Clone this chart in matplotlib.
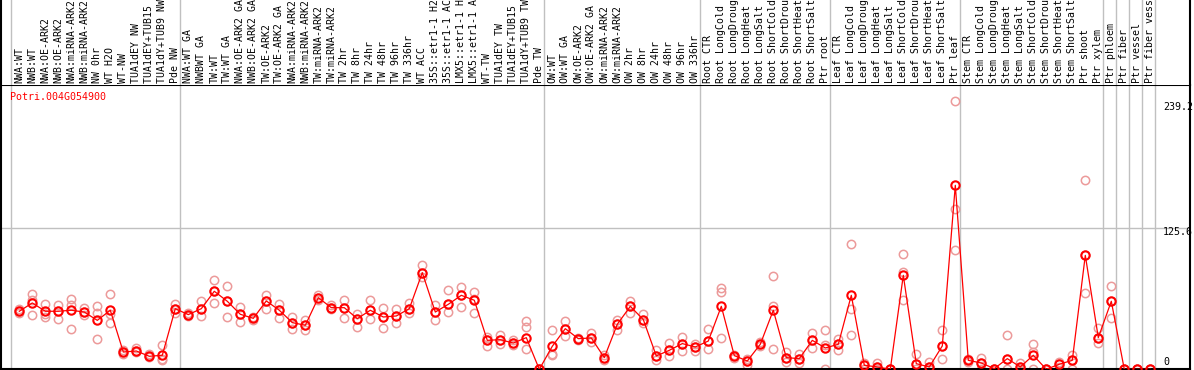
import matplotlib
matplotlib.use('Agg')
import matplotlib.pyplot as plt
import numpy as np

# sample names, in plot order
labels = [
    'NWA:WT', 'NWB:WT', 'NWA:OE-ARK2', 'NWB:OE-ARK2', 'NWA:miRNA-ARK2', 'NWB:miRNA-ARK2',
    'NW 0hr', 'WT H2O', 'WT-NW', 'TUA1dEY NW', 'TUA1dEY+TUB15 NW', 'TUA1dY+TUB9 NW', 'Pde NW',
    'NWA:WT GA', 'NWBWT GA', 'TW:WT', 'TW:WT GA', 'NWA:OE-ARK2 GA', 'NWB:OE-ARK2 GA',
    'TW:OE-ARK2', 'TW:OE-ARK2 GA', 'NWA:miRNA-ARK2', 'NWB:miRNA-ARK2', 'TW:miRNA-ARK2',
    'TW:miRNA-ARK2', 'TW 2hr', 'TW 8hr', 'TW 24hr', 'TW 48hr', 'TW 96hr', 'TW 336hr', 'WT ACC',
    '35S::etr1-1 H2O', '35S::etr1-1 ACC', 'LMX5::etr1-1 H2O', 'LMX5::etr1-1 ACC', 'WT-TW',
    'TUA1dEY TW', 'TUA1dEY+TUB15 TW', 'TUA1dY+TUB9 TW', 'Pde TW',
    'OW:WT', 'OW:WT GA', 'OW:OE-ARK2', 'OW:OE-ARK2 GA', 'OW:miRNA-ARK2', 'OW:miRNA-ARK2',
    'OW 2hr', 'OW 8hr', 'OW 24hr', 'OW 48hr', 'OW 96hr', 'OW 336hr',
    'Root CTR', 'Root LongCold', 'Root LongDrought', 'Root LongHeat', 'Root LongSalt',
    'Root ShortCold', 'Root ShortDrought', 'Root ShortHeat', 'Root ShortSalt', 'Ptr root',
    'Leaf CTR', 'Leaf LongCold', 'Leaf LongDrought', 'Leaf LongHeat', 'Leaf LongSalt',
    'Leaf ShortCold', 'Leaf ShortDrought', 'Leaf ShortHeat', 'Leaf ShortSalt', 'Ptr leaf',
    'Stem CTR', 'Stem LongCold', 'Stem LongDrought', 'Stem LongHeat', 'Stem LongSalt',
    'Stem ShortCold', 'Stem ShortDrought', 'Stem ShortHeat', 'Stem ShortSalt', 'Ptr shoot',
    'Ptr xylem', 'Ptr phloem', 'Ptr fiber', 'Ptr vessel', 'Ptr fiber vessel',
]
group_sizes = [13, 28, 12, 10, 10, 11, 1, 1, 1, 1]

means = [
    51.7, 59.1, 51.7, 51.7, 52.6, 51.0, 43.6, 52.6, 15.4, 16.3, 11.6, 12.5, 54.0,
    48.7, 54.0, 69.5, 60.6, 49.0, 45.4, 60.9, 52.6, 41.6, 39.2, 63.8, 54.9, 54.9,
    45.1, 52.6, 46.6, 47.5, 54.0, 86.1, 51.0, 57.9, 65.9, 61.5, 25.8, 26.4, 23.4, 28.2, 0.0,
    20.5, 36.2, 27.3, 27.9, 10.4, 40.1, 56.1, 44.3, 11.9, 16.9, 22.9, 19.9,
    25.2, 56.1, 12.2, 7.4, 22.3, 52.6, 10.4, 9.5, 25.8, 19.0,
    22.3, 65.9, 3.6, 2.1, 0.0, 83.7, 5.0, 2.1, 20.8, 163.9,
    8.0, 5.6, 0.6, 9.5, 2.1, 12.5, 0.0, 4.5, 8.0, 101.5, 28.2,
    60.6, 0.0, 0.0, 0.0,
]

# replicate values per sample
reps = [
    [54.0, 50.0, 51.5], [66.8, 48.1, 61.5], [58.5, 46.6, 49.0], [57.0, 45.1, 52.0],
    [63.0, 57.0, 36.2], [54.9, 48.1, 51.0], [56.1, 50.2, 27.3], [67.4, 41.6, 49.0],
    [17.5, 14.0, 15.0], [19.3, 15.4, 16.0], [13.4, 11.0, 11.8], [21.4, 9.5, 8.6],
    [57.9, 50.2, 54.0], [50.2, 47.5, 48.5], [60.6, 47.5, 54.0], [79.9, 59.4, 69.5],
    [73.9, 46.6, 60.6], [55.5, 42.1, 49.0], [46.6, 43.6, 45.4], [65.9, 54.0, 60.9],
    [58.5, 45.4, 52.6], [46.6, 36.2, 41.6], [44.3, 34.7, 39.2], [65.9, 61.5, 63.8],
    [57.0, 54.0, 54.9], [61.5, 45.7, 54.9], [49.6, 37.7, 45.1], [61.5, 45.1, 52.6],
    [54.9, 37.1, 46.6], [53.4, 41.6, 47.5], [59.1, 50.2, 54.0], [92.6, 82.2, 86.1],
    [57.0, 44.3, 51.0], [70.4, 51.0, 57.9], [73.3, 55.5, 65.9], [68.9, 50.2, 63.0],
    [28.8, 20.5, 25.8], [30.3, 22.3, 26.4], [25.8, 22.0, 23.4], [43.0, 37.7, 18.4],
    [0.0, 0.0, 0.0], [35.3, 12.5, 13.5], [43.0, 29.7, 36.2], [25.8, 27.3, 28.0],
    [32.3, 24.3, 27.9], [12.5, 8.6, 10.4], [44.3, 35.3, 40.1], [60.9, 50.2, 56.1],
    [49.0, 41.6, 44.3], [16.9, 8.6, 11.9], [23.8, 11.6, 16.9], [28.8, 16.0, 22.9],
    [22.3, 16.3, 19.9], [36.2, 18.4, 25.2], [72.7, 68.9, 28.2], [12.5, 10.4, 12.2],
    [9.5, 3.6, 7.4], [24.3, 20.5, 22.3], [82.8, 56.1, 18.4], [15.4, 6.5, 10.4],
    [13.4, 5.6, 9.5], [32.3, 19.3, 25.8], [34.7, 21.4, 0.0], [27.3, 16.9, 22.3],
    [112.0, 54.0, 30.9], [5.6, 0.6, 3.6], [5.6, 0.0, 2.1], [0.0, 0.0, 0.0],
    [103.0, 86.7, 62.1], [14.0, 0.6, 5.0], [6.5, 0.0, 2.1], [34.7, 9.5, 20.8],
    [239.2, 143.1, 106.6], [9.5, 6.5, 8.0], [10.4, 0.0, 5.6], [0.6, 0.6, 0.6],
    [30.9, 0.0, 9.5], [5.6, 0.0, 2.1], [22.9, 15.4, 0.0], [0.0, 0.0, 0.0],
    [6.5, 4.5, 2.0], [12.5, 0.0, 8.0], [169.0, 68.0, 101.5], [37.1, 23.4, 28.2],
    [73.9, 46.0, 60.6], [0.0, 0.0, 0.0], [0.0, 0.0, 0.0], [0.0, 0.0, 0.0],
]

gene = 'Potri.004G054900'
ymax_val = 239.2
ymid_val = 125.6

W, H = 1194, 370
fig = plt.figure(figsize=(W / 100, H / 100), dpi=100)
mono = 'DejaVu Sans Mono'
fs = 7.2
fs_head = 7.1

# pixel -> data mapping for x (column i centre at 19.3 + 13 i px)
def px2x(p):
    return (p - 19.3) / 13.0

xl = (px2x(1), px2x(1190))
ytop = (369.3 - 85) / 1.1226

ax = fig.add_axes([1 / W, (H - 369.3) / H, 1189 / W, (369.3 - 85) / H])
axh = fig.add_axes([1 / W, (H - 85) / H, 1189 / W, 85 / H])

x = np.arange(len(labels))

# group separators
starts = np.cumsum([0] + group_sizes)
for s in starts:
    xs = s - 0.64
    ax.axvline(xs, color='#c0c0c0', lw=1.0, zorder=0)
    axh.axvline(xs, color='#c0c0c0', lw=1.0, zorder=0)
ax.axhline(ymid_val, color='#c0c0c0', lw=1.0, zorder=0)

# replicates
for i, r in enumerate(reps):
    ax.plot([i] * len(r), r, 'o', ms=6, mfc='none', mec='#ec9a9a', mew=1.1, zorder=2)

# means
ax.plot(x, means, '-', color='red', lw=0.9, zorder=3)
ax.plot(x, means, 'o', ms=6, mfc='none', mec='red', mew=1.5, zorder=4)

ax.set_xlim(*xl)
ax.set_ylim(0, ytop)
ax.set_xticks([])
ax.set_yticks([])
for sp in ax.spines.values():
    sp.set_color('black')
    sp.set_linewidth(1.5)

ax.text(px2x(10), (369.3 - 97) / 1.1226, gene, color='red', family=mono, fontsize=fs,
        ha='left', va='center')
ax.text(px2x(1163), (369.3 - 107) / 1.1226, '239.2', color='black', family=mono, fontsize=fs,
        ha='left', va='center')
ax.text(px2x(1163), (369.3 - 232) / 1.1226, '125.6', color='black', family=mono, fontsize=fs,
        ha='left', va='center')
ax.text(px2x(1163), (369.3 - 362) / 1.1226, '0', color='black', family=mono, fontsize=fs,
        ha='left', va='center')

# header with rotated sample names
axh.set_xlim(*xl)
axh.set_ylim(0, 85)
axh.set_xticks([])
axh.set_yticks([])
axh.spines['top'].set_visible(False)
axh.spines['bottom'].set_visible(False)
axh.spines['left'].set_linewidth(1.5)
axh.spines['right'].set_linewidth(1.5)
for i, lab in enumerate(labels):
    axh.text(i, 1.7, lab, rotation=90, ha='center', va='bottom', family=mono,
             fontsize=fs_head, clip_on=True)

fig.savefig('out.png', dpi=100)
